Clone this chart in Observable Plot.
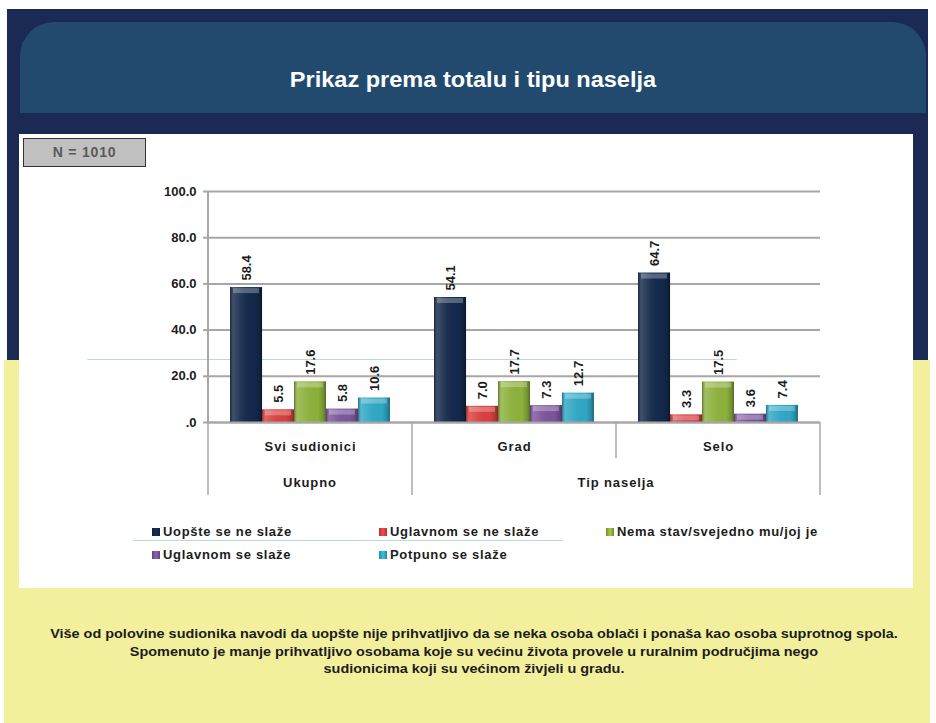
<!DOCTYPE html>
<html>
<head>
<meta charset="utf-8">
<script src="https://cdn.jsdelivr.net/npm/d3@7"></script>
<script src="https://cdn.jsdelivr.net/npm/@observablehq/plot@0.6"></script>
<style>
  html, body { margin: 0; padding: 0; }
  body { width: 936px; height: 723px; position: relative; overflow: hidden; background: #ffffff;
         font-family: "Liberation Sans", Arial, sans-serif; }
  .abs { position: absolute; }
  #navy { left: 7px; top: 9px; width: 921px; height: 351px; background: #1a2a54; }
  #yellow { left: 4px; top: 360px; width: 926px; height: 363px; background: #f3f09d; }
  #header { left: 20px; top: 22px; width: 906px; height: 91px; background: #214a6e;
            border-radius: 34px 34px 0 0; }
  #title { left: 20px; top: 67px; width: 906px; text-align: center; color: #fff;
           font-weight: bold; font-size: 22px; transform: scaleX(1.07); }
  #panel { left: 19px; top: 134px; width: 894px; height: 454px; background: #fff; }
  #nbox { left: 23px; top: 138px; width: 121px; height: 27px; background: #c0c0c0;
          border: 1px solid #333; text-align: center; line-height: 27px; color: #5a5a5a;
          font-weight: bold; font-size: 14px; letter-spacing: 0.8px; }
  #chart { left: 0px; top: 170px; }
  #chart svg text { font-weight: bold; }
  #chart svg .fxax text, #chart svg .grp { letter-spacing: 0.9px; }
  #legend { left: 152px; top: 523px; display: grid; grid-template-columns: 227px 227px 240px;
            row-gap: 6px; }
  .lg { display: flex; align-items: center; font-weight: bold; font-size: 13px; color: #1c1c1c;
        height: 17px; white-space: nowrap; letter-spacing: 0.7px; }
  .sw { width: 8px; height: 8px; margin-right: 3px; }
  #caption { left: 10px; top: 626px; width: 928px; text-align: center; font-weight: bold;
             font-size: 12.5px; line-height: 17.5px; color: #1c1c1c; transform: scaleX(1.155); }
  .deco { height: 1px; background: #b9d8db; }
</style>
</head>
<body>
<svg width="0" height="0" style="position:absolute">
  <defs>
    <linearGradient id="shade" x1="0" x2="1" y1="0" y2="0">
      <stop offset="0" stop-color="#000" stop-opacity="0.35"/>
      <stop offset="0.1" stop-color="#fff" stop-opacity="0.18"/>
      <stop offset="0.35" stop-color="#fff" stop-opacity="0.06"/>
      <stop offset="0.75" stop-color="#000" stop-opacity="0.0"/>
      <stop offset="0.92" stop-color="#000" stop-opacity="0.18"/>
      <stop offset="1" stop-color="#000" stop-opacity="0.4"/>
    </linearGradient>
  </defs>
</svg>
<div id="navy" class="abs"></div>
<div id="yellow" class="abs"></div>
<div id="header" class="abs"></div>
<div id="title" class="abs">Prikaz prema totalu i tipu naselja</div>
<div id="panel" class="abs"></div>
<div class="abs deco" style="left:87px; top:359px; width:650px;"></div>
<div id="nbox" class="abs">N = 1010</div>
<div id="chart" class="abs"></div>
<div class="abs deco" style="left:133px; top:540px; width:430px;"></div>
<div id="legend" class="abs"></div>
<div id="caption" class="abs">Više od polovine sudionika navodi da uopšte nije prihvatljivo da se neka osoba oblači i ponaša kao osoba suprotnog spola.<br>Spomenuto je manje prihvatljivo osobama koje su većinu života provele u ruralnim područjima nego<br>sudionicima koji su većinom živjeli u gradu.</div>

<script>
// ---- data ----
const categories = ["Svi sudionici", "Grad", "Selo"];
const groups = ["Ukupno", "Tip naselja", "Tip naselja"];
const seriesNames = ["Uopšte se ne slaže", "Uglavnom se ne slaže", "Nema stav/svejedno mu/joj je", "Uglavnom se slaže", "Potpuno se slaže"];
const seriesColors = ["#13294b", "#d8403f", "#8db13c", "#7b559b", "#2fa7c5"];
const uopsteNe = [58.4, 54.1, 64.7];
const uglavnomNe = [5.5, 7.0, 3.3];
const nemaStav = [17.6, 17.7, 17.5];
const uglavnomDa = [5.8, 7.3, 3.6];
const potpuno = [10.6, 12.7, 7.4];
const yTicks = [0, 20, 40, 60, 80, 100];

const seriesValues = [uopsteNe, uglavnomNe, nemaStav, uglavnomDa, potpuno];
const data = [];
categories.forEach((cat, i) => {
  seriesNames.forEach((s, j) => data.push({cat, series: s, value: seriesValues[j][i]}));
});

const gridColor = "#a7a7a7";
const plot = Plot.plot({
  width: 936,
  height: 330,
  marginLeft: 207,
  marginRight: 116,
  marginTop: 21,
  marginBottom: 78,
  style: {fontFamily: "'Liberation Sans', Arial, sans-serif", background: "transparent", color: "#1c1c1c"},
  fx: {domain: categories, paddingInner: 0, paddingOuter: 0, axis: null},
  x: {domain: seriesNames, paddingInner: 0, paddingOuter: 0.69, round: false, axis: null},
  y: {domain: [0, 100], axis: null},
  color: {domain: seriesNames, range: seriesColors},
  marks: [
    Plot.gridY(yTicks, {stroke: gridColor, strokeOpacity: 1, strokeWidth: 2}),
    Plot.axisY(yTicks, {tickSize: 5, tickPadding: 7, stroke: gridColor, strokeWidth: 2, fill: "#1c1c1c",
      fontSize: 13, label: null, tickFormat: d => d === 0 ? ".0" : d.toFixed(1)}),
    Plot.barY(data, {fx: "cat", x: "series", y: "value", fill: "series"}),
    Plot.barY(data, {fx: "cat", x: "series", y: "value", fill: "url(#shade)"}),
    Plot.tickY(data, {fx: "cat", x: "series", y: "value", stroke: "#fff", strokeOpacity: 0.28, strokeWidth: 5, dy: 3, insetLeft: 3, insetRight: 3}),
    Plot.ruleY([0], {stroke: gridColor, strokeWidth: 2}),
    Plot.text(data, {fx: "cat", x: "series", y: "value", text: d => d.value.toFixed(1), rotate: -90,
      textAnchor: "start", dy: -7, fontSize: 13, fill: "#1c1c1c"}),
    Plot.axisFx({anchor: "bottom", tickSize: 0, tickPadding: 19, fontSize: 13, label: null, className: "fxax"})
  ]
});

document.getElementById("chart").appendChild(plot);

// hierarchical axis separators and group labels, positioned from the library's scales
const fx = plot.scale("fx");
const ys = plot.scale("y");
const y0 = ys.apply(0), y100 = ys.apply(100);
const bw = fx.bandwidth;
const svg = d3.select(plot);
svg.selectAll("g[aria-label='fx-axis tick label'], g[aria-label='fx-axis tick label'] text").classed("fxax", true);
const g = svg.append("g");
const starts = categories.map(c => fx.apply(c));
const end = starts[starts.length - 1] + bw;
// vertical y axis line
g.append("line").attr("x1", starts[0]).attr("x2", starts[0]).attr("y1", y100).attr("y2", y0)
  .attr("stroke", gridColor).attr("stroke-width", 2);
// separators
const bounds = starts.concat([end]);
bounds.forEach((x, i) => {
  const isGroupBoundary = i === 0 || i === categories.length || groups[i] !== groups[i - 1];
  g.append("line").attr("x1", x).attr("x2", x).attr("y1", y0)
    .attr("y2", y0 + (isGroupBoundary ? 73 : 36))
    .attr("stroke", gridColor).attr("stroke-width", 1.5);
});
// group labels
const uniqueGroups = [...new Set(groups)];
uniqueGroups.forEach(gr => {
  const idx = groups.map((d, i) => d === gr ? i : -1).filter(i => i >= 0);
  const x1 = starts[idx[0]], x2 = starts[idx[idx.length - 1]] + bw;
  g.append("text").attr("class", "grp").attr("x", (x1 + x2) / 2).attr("y", y0 + 60).attr("dy", "0.35em")
    .attr("text-anchor", "middle").attr("font-size", 13).attr("font-weight", "bold")
    .attr("fill", "#1c1c1c").text(gr);
});

// legend
const color = plot.scale("color");
const legend = d3.select("#legend");
seriesNames.forEach(s => {
  const item = legend.append("div").attr("class", "lg");
  item.append("div").attr("class", "sw")
    .style("background", `linear-gradient(90deg, ${d3.color(color.apply(s)).darker(0.6)}, ${d3.color(color.apply(s)).brighter(0.4)}, ${d3.color(color.apply(s)).darker(0.6)})`);
  item.append("span").text(s);
});
</script>
</body>
</html>
